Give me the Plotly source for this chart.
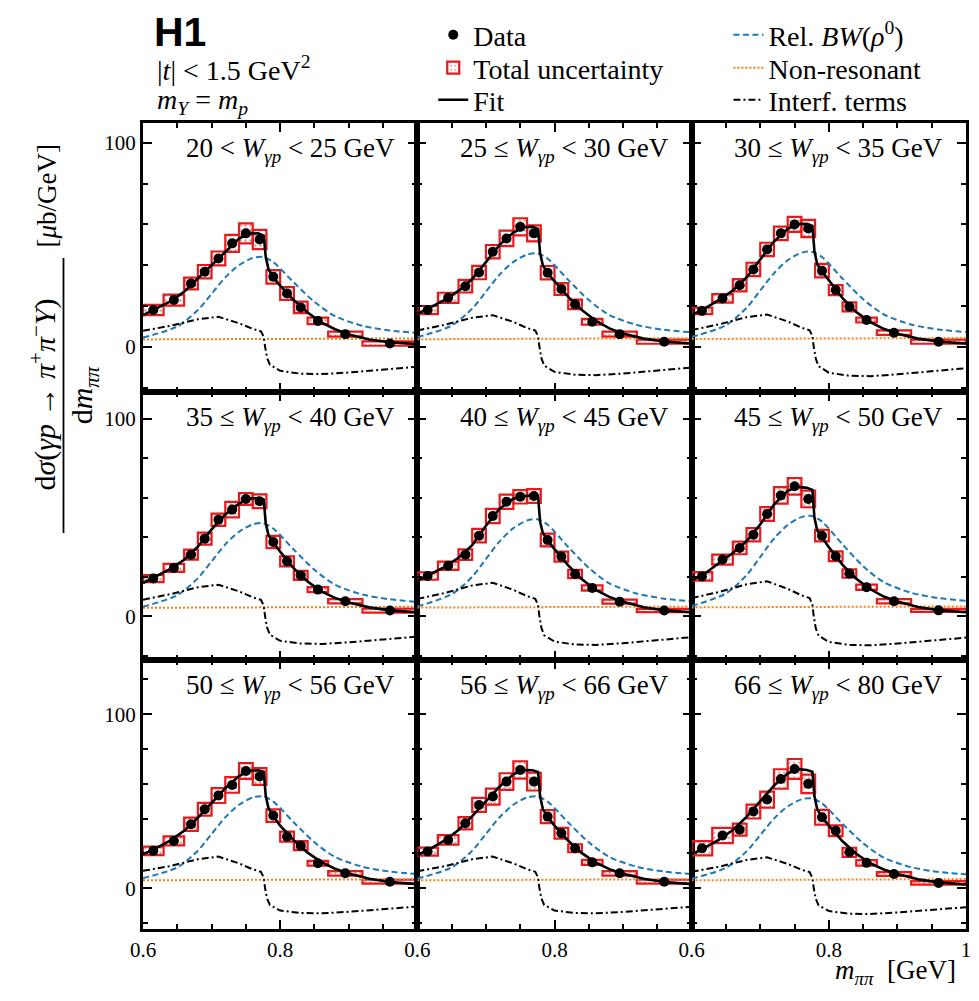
import plotly.graph_objects as go
from plotly.subplots import make_subplots

# ---------------- data ----------------
bin_edges = [0.60, 0.63, 0.66, 0.68, 0.70, 0.72, 0.74, 0.76, 0.78, 0.80, 0.82, 0.84, 0.87, 0.92, 1.00]

w_labels = [
    "20 &lt; <i>W</i><sub><i>γp</i></sub> &lt; 25 GeV",
    "25 ≤ <i>W</i><sub><i>γp</i></sub> &lt; 30 GeV",
    "30 ≤ <i>W</i><sub><i>γp</i></sub> &lt; 35 GeV",
    "35 ≤ <i>W</i><sub><i>γp</i></sub> &lt; 40 GeV",
    "40 ≤ <i>W</i><sub><i>γp</i></sub> &lt; 45 GeV",
    "45 ≤ <i>W</i><sub><i>γp</i></sub> &lt; 50 GeV",
    "50 ≤ <i>W</i><sub><i>γp</i></sub> &lt; 56 GeV",
    "56 ≤ <i>W</i><sub><i>γp</i></sub> &lt; 66 GeV",
    "66 ≤ <i>W</i><sub><i>γp</i></sub> &lt; 80 GeV",
]

# measured dσ/dm (μb/GeV) per W bin
xsec_20_25 = [18.0, 22.9, 31.0, 36.8, 43.3, 50.7, 55.6, 52.6, 34.3, 26.1, 19.3, 12.7, 6.2, 1.6]
xsec_25_30 = [18.0, 24.0, 29.7, 36.4, 46.6, 53.1, 58.8, 55.6, 36.3, 28.3, 20.8, 12.3, 6.2, 2.5]
xsec_30_35 = [17.6, 23.7, 30.2, 37.9, 47.7, 55.6, 60.0, 58.0, 37.3, 27.8, 19.6, 13.1, 6.9, 2.5]
xsec_35_40 = [19.1, 24.5, 31.2, 39.3, 48.9, 54.0, 59.4, 58.2, 37.6, 27.8, 20.7, 13.5, 7.6, 2.9]
xsec_40_45 = [20.4, 25.6, 31.2, 40.8, 50.8, 58.0, 60.5, 60.9, 38.6, 30.2, 21.4, 14.3, 7.4, 2.9]
xsec_45_50 = [20.2, 28.7, 34.6, 41.3, 51.8, 61.2, 65.8, 59.4, 40.8, 30.4, 21.6, 14.7, 7.6, 3.0]
xsec_50_56 = [21.5, 27.2, 36.8, 45.4, 53.3, 59.4, 67.4, 64.2, 41.8, 29.7, 24.5, 14.4, 8.6, 3.8]
xsec_56_66 = [21.1, 27.8, 37.4, 47.9, 52.7, 61.3, 68.0, 61.3, 41.2, 31.6, 23.0, 14.9, 8.6, 3.8]
xsec_66_80 = [23.0, 30.3, 33.7, 44.1, 51.0, 62.8, 68.6, 60.0, 40.8, 33.1, 20.7, 14.6, 8.2, 3.1]

# total uncertainty (half height of the boxes)
unc_20_25 = [2.5, 2.7, 2.9, 3.3, 3.4, 4.2, 4.9, 4.7, 3.3, 3.1, 2.8, 1.6, 1.2, 1.1]
unc_25_30 = [2.0, 2.5, 3.1, 3.3, 3.3, 3.8, 4.2, 3.9, 3.3, 2.9, 2.3, 1.4, 1.2, 1.0]
unc_30_35 = [1.6, 2.1, 3.0, 3.3, 3.3, 3.3, 3.7, 4.2, 3.3, 2.5, 2.2, 1.2, 1.1, 1.0]
unc_35_40 = [1.8, 2.0, 2.5, 3.0, 3.1, 3.9, 3.0, 3.5, 3.1, 2.5, 2.3, 1.3, 1.1, 1.0]
unc_40_45 = [1.9, 2.1, 2.7, 3.4, 3.6, 3.6, 3.4, 3.5, 3.2, 2.5, 2.1, 1.3, 1.0, 0.8]
unc_45_50 = [2.2, 2.5, 3.2, 3.4, 3.5, 4.2, 4.2, 4.2, 2.9, 2.5, 2.1, 1.3, 1.1, 0.8]
unc_50_56 = [2.4, 2.6, 3.8, 3.7, 4.3, 4.5, 4.5, 4.8, 3.6, 2.9, 2.6, 1.4, 1.3, 1.1]
unc_56_66 = [2.3, 2.7, 3.5, 4.0, 4.6, 4.8, 5.0, 5.1, 3.8, 3.1, 2.3, 1.4, 1.3, 1.1]
unc_66_80 = [4.1, 4.4, 3.4, 4.0, 4.6, 5.6, 5.7, 5.3, 4.3, 3.1, 2.6, 1.6, 1.1, 1.0]

# fit curve
fit_grid = [0.60, 0.62, 0.64, 0.66, 0.68, 0.70, 0.72, 0.74, 0.755, 0.768, 0.776, 0.779, 0.783,
            0.79, 0.80, 0.82, 0.84, 0.86, 0.88, 0.90, 0.93, 0.96, 1.00]
fit_20_25 = [15.5, 18.8, 22.3, 27.0, 33.5, 40.0, 47.0, 53.0, 55.5, 55.6, 54.5, 44.0, 38.0, 34.0, 30.0, 22.8, 16.8, 12.0, 8.6, 6.0, 3.6, 2.2, 1.3]
fit_25_30 = [16.0, 19.3, 23.0, 27.4, 33.2, 41.5, 50.0, 56.0, 58.6, 58.8, 57.8, 46.0, 40.0, 36.0, 32.0, 24.5, 18.0, 12.8, 9.0, 6.5, 4.0, 2.6, 1.6]
fit_30_35 = [15.5, 19.0, 23.0, 27.6, 34.0, 42.8, 51.6, 57.8, 60.2, 60.3, 59.3, 47.0, 40.5, 37.0, 32.5, 23.8, 17.0, 12.2, 8.8, 6.4, 4.0, 2.6, 1.6]
fit_35_40 = [16.8, 20.3, 24.0, 28.6, 35.2, 44.0, 51.5, 57.0, 59.6, 59.8, 59.0, 47.0, 41.0, 37.5, 32.7, 24.2, 17.6, 12.6, 9.3, 7.0, 4.5, 3.0, 2.0]
fit_40_45 = [18.0, 21.6, 25.0, 29.6, 36.0, 45.8, 54.5, 59.5, 60.8, 61.2, 60.8, 48.0, 42.0, 38.5, 34.0, 25.8, 18.7, 13.4, 9.8, 7.3, 4.6, 3.0, 2.0]
fit_45_50 = [18.0, 21.8, 27.0, 32.0, 38.0, 46.5, 56.5, 63.5, 65.5, 65.0, 64.0, 50.0, 43.5, 40.0, 35.0, 26.0, 19.0, 13.8, 10.0, 7.5, 4.7, 3.1, 2.0]
fit_50_56 = [19.5, 23.2, 27.5, 33.0, 40.5, 49.0, 57.5, 64.5, 67.5, 67.8, 67.0, 53.0, 46.0, 41.5, 36.0, 27.5, 20.5, 15.0, 11.2, 8.5, 5.5, 3.6, 2.4]
fit_56_66 = [19.0, 23.0, 27.5, 33.5, 41.5, 50.0, 58.5, 65.5, 68.0, 67.8, 66.8, 53.0, 45.5, 41.0, 36.0, 27.3, 20.2, 14.8, 11.0, 8.4, 5.5, 3.6, 2.4]
fit_66_80 = [19.5, 23.5, 28.0, 33.5, 41.0, 50.0, 59.0, 66.0, 68.5, 68.0, 67.0, 53.0, 45.5, 41.0, 36.0, 27.0, 19.8, 14.5, 10.8, 8.2, 5.2, 3.4, 2.2]

# relativistic Breit-Wigner component
bw_grid = [0.60, 0.65, 0.68, 0.70, 0.72, 0.74, 0.76, 0.775, 0.79, 0.82, 0.85, 0.88, 0.92, 0.96, 1.00]
bw_20_25 = [4.5, 10.0, 18.0, 26.0, 34.0, 40.0, 43.5, 44.0, 41.5, 31.5, 22.0, 15.0, 10.3, 8.0, 6.8]
bw_25_30 = [4.7, 10.4, 18.7, 27.0, 35.4, 41.6, 45.2, 45.8, 43.2, 32.8, 22.9, 15.6, 10.7, 8.3, 7.1]
bw_30_35 = [4.8, 10.6, 19.1, 27.6, 36.0, 42.4, 46.1, 46.6, 44.0, 33.4, 23.3, 15.9, 10.9, 8.5, 7.2]
bw_35_40 = [4.8, 10.7, 19.3, 27.8, 36.4, 42.8, 46.5, 47.1, 44.4, 33.7, 23.5, 16.0, 11.0, 8.6, 7.3]
bw_40_45 = [5.0, 11.2, 20.0, 29.0, 37.9, 44.6, 48.5, 49.1, 46.3, 35.1, 24.5, 16.7, 11.5, 8.9, 7.6]
bw_45_50 = [5.2, 11.6, 20.8, 30.0, 39.3, 46.2, 50.2, 50.8, 47.9, 36.4, 25.4, 17.3, 11.9, 9.2, 7.9]
bw_50_56 = [5.8, 12.0, 21.6, 31.2, 40.8, 48.0, 52.2, 52.8, 49.8, 37.8, 26.4, 18.0, 12.4, 9.6, 8.2]
bw_56_66 = [5.6, 12.0, 21.6, 31.2, 40.8, 48.0, 52.2, 52.8, 49.8, 37.8, 26.4, 18.0, 12.4, 9.6, 8.2]
bw_66_80 = [5.5, 11.8, 21.2, 30.6, 40.0, 47.0, 51.1, 51.7, 48.8, 37.0, 25.9, 17.6, 12.1, 9.4, 8.0]

# non-resonant component
nr_grid = [0.60, 0.80, 1.00]
nr_20_25 = [3.6, 3.9, 4.1]
nr_25_30 = [3.7, 4.0, 4.2]
nr_30_35 = [3.8, 4.1, 4.3]
nr_35_40 = [4.3, 4.6, 4.8]
nr_40_45 = [4.4, 4.7, 4.9]
nr_45_50 = [4.5, 4.8, 5.0]
nr_50_56 = [4.6, 5.0, 5.2]
nr_56_66 = [4.6, 5.0, 5.2]
nr_66_80 = [4.6, 5.0, 5.3]

# interference terms
int_grid = [0.60, 0.64, 0.68, 0.71, 0.74, 0.76, 0.772, 0.776, 0.778, 0.781, 0.785,
            0.80, 0.83, 0.86, 0.90, 0.95, 1.00]
int_20_25 = [7.8, 10.3, 13.5, 14.7, 11.5, 8.8, 7.6, 5.0, 0.0, -5.5, -8.8, -11.8, -13.2, -13.4, -12.6, -11.3, -9.8]
int_25_30 = [8.0, 10.8, 14.2, 15.5, 12.2, 9.2, 8.0, 5.2, 0.0, -5.7, -9.2, -12.3, -13.7, -13.9, -13.1, -11.8, -10.2]
int_30_35 = [8.2, 11.0, 14.5, 15.8, 12.4, 9.4, 8.1, 5.3, 0.0, -5.9, -9.5, -12.7, -14.2, -14.4, -13.5, -12.1, -10.5]
int_35_40 = [8.4, 11.2, 14.7, 16.0, 12.6, 9.6, 8.3, 5.4, 0.0, -5.8, -9.3, -12.4, -13.8, -14.0, -13.2, -11.8, -10.3]
int_40_45 = [8.8, 11.8, 15.6, 17.0, 13.4, 10.2, 8.8, 5.7, 0.0, -6.0, -9.6, -12.8, -14.3, -14.5, -13.6, -12.2, -10.6]
int_45_50 = [9.2, 12.3, 16.2, 17.7, 13.9, 10.6, 9.2, 6.0, 0.0, -6.1, -9.8, -13.0, -14.5, -14.7, -13.8, -12.4, -10.8]
int_50_56 = [10.0, 12.8, 16.7, 18.2, 14.3, 10.9, 9.5, 6.2, 0.0, -6.0, -9.6, -12.8, -14.2, -14.4, -13.5, -12.1, -10.5]
int_56_66 = [9.8, 12.7, 16.7, 18.2, 14.3, 10.9, 9.5, 6.2, 0.0, -6.0, -9.6, -12.8, -14.2, -14.4, -13.6, -12.2, -10.6]
int_66_80 = [9.5, 12.4, 16.3, 17.8, 14.0, 10.7, 9.3, 6.0, 0.0, -6.1, -9.8, -13.1, -14.6, -14.8, -13.9, -12.5, -10.9]

xsec_all = [xsec_20_25, xsec_25_30, xsec_30_35, xsec_35_40, xsec_40_45, xsec_45_50, xsec_50_56, xsec_56_66, xsec_66_80]
unc_all = [unc_20_25, unc_25_30, unc_30_35, unc_35_40, unc_40_45, unc_45_50, unc_50_56, unc_56_66, unc_66_80]
fit_all = [fit_20_25, fit_25_30, fit_30_35, fit_35_40, fit_40_45, fit_45_50, fit_50_56, fit_56_66, fit_66_80]
bw_all = [bw_20_25, bw_25_30, bw_30_35, bw_35_40, bw_40_45, bw_45_50, bw_50_56, bw_56_66, bw_66_80]
nr_all = [nr_20_25, nr_25_30, nr_30_35, nr_35_40, nr_40_45, nr_45_50, nr_50_56, nr_56_66, nr_66_80]
int_all = [int_20_25, int_25_30, int_30_35, int_35_40, int_40_45, int_45_50, int_50_56, int_56_66, int_66_80]

row_ranges = [[-22.0, 109.7], [-22.3, 113.7], [-23.4, 131.0]]

# ---------------- style ----------------
SERIF = "Liberation Serif"
RED = "#e41a1c"
BLUE = "#1f77b4"
ORANGE = "#ff7f0e"

W, H = 979, 1001
ML, MR, MT, MB = 143, 8, 123, 72
PW, PH = W - ML - MR, H - MT - MB


def px(xp):
    return (xp - ML) / PW


def py(yp):
    return 1 - (yp - MT) / PH


centers = [(a + b) / 2 for a, b in zip(bin_edges[:-1], bin_edges[1:])]
widths = [b - a for a, b in zip(bin_edges[:-1], bin_edges[1:])]

fig = make_subplots(rows=3, cols=3, horizontal_spacing=0, vertical_spacing=0)

for i in range(9):
    r, c = i // 3 + 1, i % 3 + 1
    first = i == 0
    vals, unc = xsec_all[i], unc_all[i]
    fig.add_trace(go.Bar(
        x=centers, y=[2 * u for u in unc], base=[v - u for v, u in zip(vals, unc)],
        width=widths, name="Total uncertainty", legend="legend2",
        marker=dict(color="rgba(255,255,255,0)",
                    line=dict(color=RED, width=2.2),
                    pattern=dict(shape=".", fgcolor=RED, bgcolor="rgba(255,255,255,0)",
                                 size=5, solidity=0.18)),
        showlegend=first, hoverinfo="skip"), row=r, col=c)
    fig.add_trace(go.Scatter(
        x=nr_grid, y=nr_all[i], mode="lines", name="Non-resonant", legend="legend5",
        line=dict(color=ORANGE, width=2, dash="2px,2px"), showlegend=first), row=r, col=c)
    fig.add_trace(go.Scatter(
        x=bw_grid, y=bw_all[i], mode="lines", name="Rel. <i>BW</i>(<i>ρ</i><sup>0</sup>)",
        legend="legend4", line=dict(color=BLUE, width=2, dash="6px,3.5px", shape="spline", smoothing=0.8),
        showlegend=first), row=r, col=c)
    fig.add_trace(go.Scatter(
        x=int_grid, y=int_all[i], mode="lines", name="Interf. terms", legend="legend6",
        line=dict(color="black", width=2, dash="7px,3px,2px,3px"), showlegend=first), row=r, col=c)
    fig.add_trace(go.Scatter(
        x=fit_grid, y=fit_all[i], mode="lines", name="Fit", legend="legend3",
        line=dict(color="black", width=2.6), showlegend=first), row=r, col=c)
    fig.add_trace(go.Scatter(
        x=centers, y=vals, mode="markers", name="Data", legend="legend",
        marker=dict(color="black", size=10),
        error_y=dict(type="constant", value=1.2, color="black", thickness=2, width=0),
        showlegend=first), row=r, col=c)

    fig.add_annotation(
        text=w_labels[i], xref=f"x{i + 1 if i else ''} domain", yref=f"y{i + 1 if i else ''} domain",
        x=0.925, y=0.9, xanchor="right", yanchor="middle", showarrow=False,
        font=dict(family=SERIF, size=27, color="black"))

axis_common = dict(showline=True, linewidth=3, linecolor="black", mirror="allticks",
                   ticks="inside", ticklen=9, tickwidth=2, tickcolor="black",
                   showgrid=False, zeroline=False,
                   tickfont=dict(family=SERIF, size=21, color="black"))

for i in range(9):
    r, c = i // 3 + 1, i % 3 + 1
    fig.update_xaxes(axis_common, row=r, col=c, range=[0.6, 1.0],
                     tickmode="array", tickvals=[0.6, 0.8, 1.0],
                     ticktext=["0.6", "0.8", "1" if c == 3 else " "],
                     showticklabels=(r == 3),
                     minor=dict(tickmode="linear", tick0=0.6, dtick=0.05, ticks="inside",
                                ticklen=5, tickwidth=2, tickcolor="black", showgrid=False))
    fig.update_yaxes(axis_common, row=r, col=c, range=row_ranges[r - 1],
                     tickmode="array", tickvals=[0, 100], ticktext=["0", "100"],
                     showticklabels=(c == 1),
                     minor=dict(tickmode="linear", tick0=0, dtick=20, ticks="inside",
                                ticklen=5, tickwidth=2, tickcolor="black", showgrid=False))

# header texts
fig.add_annotation(text="<b>H1</b>", xref="paper", yref="paper", x=px(152), y=py(32),
                   xanchor="left", yanchor="middle", showarrow=False,
                   font=dict(family="Liberation Sans", size=41, color="black"))
fig.add_annotation(text="|<i>t</i>| &lt; 1.5 GeV<sup>2</sup>", xref="paper", yref="paper",
                   x=px(155), y=py(69), xanchor="left", yanchor="middle", showarrow=False,
                   font=dict(family=SERIF, size=28, color="black"))
fig.add_annotation(text="<i>m</i><sub><i>Y</i></sub> = <i>m</i><sub><i>p</i></sub>", xref="paper", yref="paper",
                   x=px(155), y=py(102), xanchor="left", yanchor="middle", showarrow=False,
                   font=dict(family=SERIF, size=28, color="black"))

# axis titles
fig.add_annotation(text="<i>m</i><sub><i>ππ</i></sub>  [GeV]", xref="paper", yref="paper",
                   x=px(963), y=py(972), xanchor="right", yanchor="middle", showarrow=False,
                   font=dict(family=SERIF, size=27, color="black"))
fig.add_annotation(text="d<i>σ</i>(<i>γp</i> → <i>π</i><sup>+</sup><i>π</i><sup>−</sup><i>Y</i>)",
                   xref="paper", yref="paper", x=px(42), y=py(395), textangle=-90,
                   xanchor="center", yanchor="middle", showarrow=False,
                   font=dict(family=SERIF, size=30, color="black"))
fig.add_annotation(text="d<i>m</i><sub><i>ππ</i></sub>",
                   xref="paper", yref="paper", x=px(84), y=py(395), textangle=-90,
                   xanchor="center", yanchor="middle", showarrow=False,
                   font=dict(family=SERIF, size=30, color="black"))
fig.add_annotation(text="[<i>μ</i>b/GeV]",
                   xref="paper", yref="paper", x=px(46), y=py(196), textangle=-90,
                   xanchor="center", yanchor="middle", showarrow=False,
                   font=dict(family=SERIF, size=27, color="black"))
fig.add_shape(type="line", xref="paper", yref="paper", x0=px(63), x1=px(63),
              y0=py(258), y1=py(533), line=dict(color="black", width=1.8))

legend_style = dict(font=dict(family=SERIF, size=28, color="black"),
                    bgcolor="rgba(0,0,0,0)", borderwidth=0, tracegroupgap=0,
                    xanchor="left", yanchor="middle", itemwidth=30)
LX1, LX2 = 435, 732
fig.update_layout(
    width=W, height=H,
    margin=dict(l=ML, r=MR, t=MT, b=MB),
    paper_bgcolor="white", plot_bgcolor="white",
    barmode="overlay",
    legend=dict(legend_style, x=px(LX1), y=py(35)),
    legend2=dict(legend_style, x=px(LX1), y=py(68)),
    legend3=dict(legend_style, x=px(LX1), y=py(100)),
    legend4=dict(legend_style, x=px(LX2), y=py(35)),
    legend5=dict(legend_style, x=px(LX2), y=py(68)),
    legend6=dict(legend_style, x=px(LX2), y=py(100)),
    font=dict(family=SERIF, color="black"),
)

fig.write_html("out.html")
